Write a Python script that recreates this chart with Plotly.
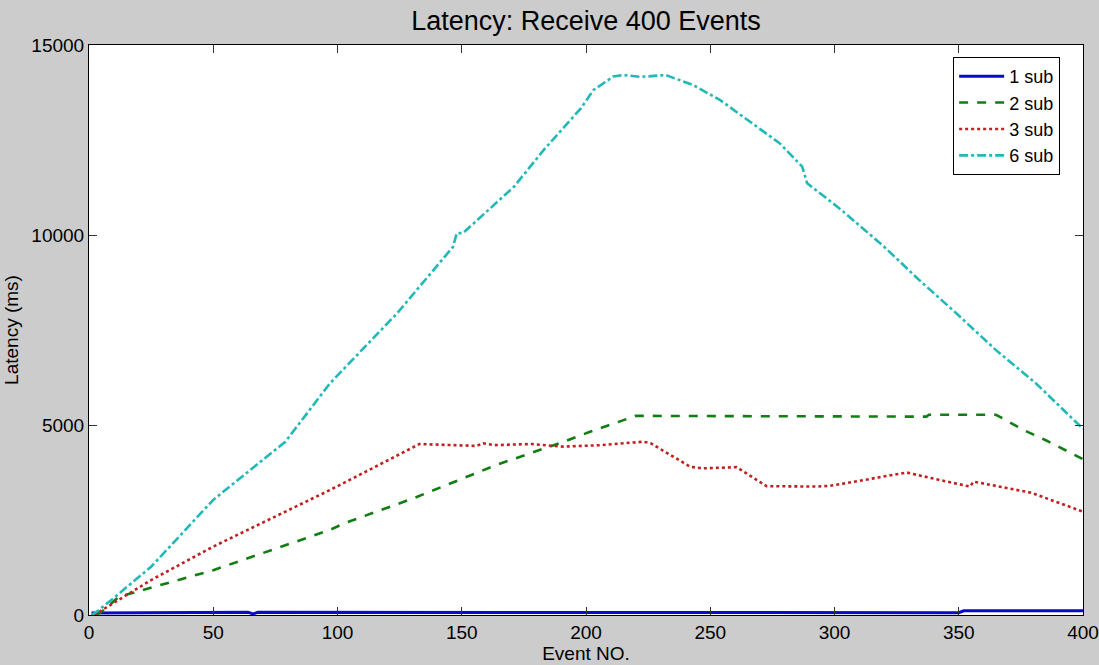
import plotly.graph_objects as go

# ---- data ----
x_1sub = [1, 64, 66, 68, 350, 352, 400]
y_1sub = [50, 70, 30, 70, 60, 110, 110]

x_2sub = [3, 6, 12, 50, 97, 103, 130.5, 164, 191, 201.6, 220, 337, 338, 365, 376, 385, 400]
y_2sub = [0, 130, 480, 1180, 2240, 2420, 3070, 3950, 4560, 4820, 5240, 5220, 5270, 5270, 4870, 4600, 4100]

x_3sub = [2, 6.4, 18.5, 25, 50, 97, 114, 130.5, 133, 156, 158.6, 163, 178, 191, 206, 223, 226,
          242, 247, 260.6, 272.7, 293, 298, 303, 311.5, 329, 342.5, 354.5, 356, 379, 400]
y_3sub = [0, 180, 660, 920, 1800, 3290, 3860, 4430, 4500, 4450, 4520, 4470, 4500, 4430, 4470, 4560, 4520,
          3900, 3860, 3890, 3390, 3380, 3400, 3450, 3550, 3750, 3550, 3380, 3510, 3220, 2720]

x_6sub = [1, 3, 10, 25, 50, 79, 97, 124, 146.5, 148, 150.5, 171, 183, 198, 203, 211, 215, 222, 232,
          243, 254, 265, 278, 287, 289, 302, 320, 334, 349, 365, 381, 400]
y_6sub = [0, 80, 450, 1270, 3030, 4560, 6100, 7940, 9690, 10050, 10050, 11270, 12240, 13340, 13815, 14170,
          14210, 14160, 14210, 13950, 13550, 13030, 12410, 11800, 11360, 10700, 9690, 8820, 7940, 6970, 6100, 4900]

x_ticks = [0, 50, 100, 150, 200, 250, 300, 350, 400]
y_ticks = [0, 5000, 10000, 15000]
y_ticktext = ["0", "5000", "10000", "15000"]

series = [
    ("1 sub", x_1sub, y_1sub, "#0a0acd", "solid"),
    ("2 sub", x_2sub, y_2sub, "#127d12", "dash"),
    ("3 sub", x_3sub, y_3sub, "#c02020", "dot"),
    ("6 sub", x_6sub, y_6sub, "#22b8b8", "dashdot"),
]

FONT = "Liberation Sans, Arial"

fig = go.Figure()
for name, xs, ys, color, dash in series:
    fig.add_trace(go.Scatter(x=xs, y=ys, name=name, mode="lines",
                             line=dict(color=color, width=3 if dash == "solid" else 2.6, dash=dash)))

axis_common = dict(
    showline=True, linecolor="black", linewidth=1, mirror="ticks",
    ticks="inside", ticklen=8, tickcolor="#333333", tickwidth=1,
    showgrid=False, zeroline=False, automargin=False,
    tickfont=dict(family=FONT, size=19, color="black"),
)

fig.update_layout(
    width=1099, height=665,
    paper_bgcolor="#cccccc", plot_bgcolor="white",
    margin=dict(l=89, r=16, t=45, b=50, autoexpand=False),
    title=dict(text="Latency: Receive 400 Events", x=(89 + 1083) / 2 / 1099, xanchor="center",
               y=1 - 21 / 665, yanchor="middle", automargin=False,
               font=dict(family=FONT, size=27, color="black")),
    xaxis=dict(range=[0, 400], tickvals=x_ticks,
               title=dict(text="Event NO.", standoff=0,
                          font=dict(family=FONT, size=19, color="black")), **axis_common),
    yaxis=dict(range=[0, 15000], tickvals=y_ticks, ticktext=y_ticktext,
               title=dict(text="Latency (ms)", standoff=7,
                          font=dict(family=FONT, size=19, color="black")), **axis_common),
    legend=dict(x=0.977, xanchor="right", y=0.979, yanchor="top",
                bgcolor="white", bordercolor="black", borderwidth=1,
                font=dict(family=FONT, size=18, color="black"),
                tracegroupgap=0, itemwidth=45),
    showlegend=True,
)

fig.write_html("out.html", config={"displayModeBar": False},
               post_script="document.body.style.margin='0';document.body.style.overflow='hidden';")
